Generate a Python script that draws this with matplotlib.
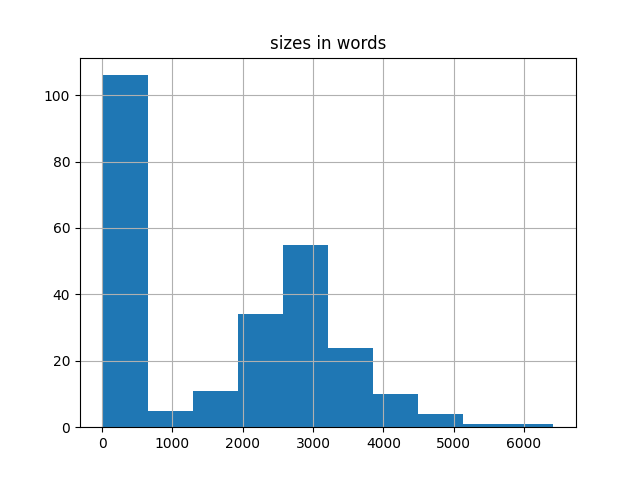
import matplotlib
matplotlib.use("Agg")
import matplotlib.pyplot as plt
import numpy as np

# histogram of document sizes (10 bins, as pandas .hist() gives)
size_min = 5
size_max = 6420
counts = [106, 5, 11, 34, 55, 24, 10, 4, 1, 1]

edges = np.linspace(size_min, size_max, len(counts) + 1)
centers = (edges[:-1] + edges[1:]) / 2

fig, ax = plt.subplots(figsize=(6.4, 4.8), dpi=100)
ax.hist(centers, bins=edges, weights=counts, color='#1f77b4')
ax.grid(True)
ax.set_title('sizes in words')

plt.savefig('out.png', dpi=100)
